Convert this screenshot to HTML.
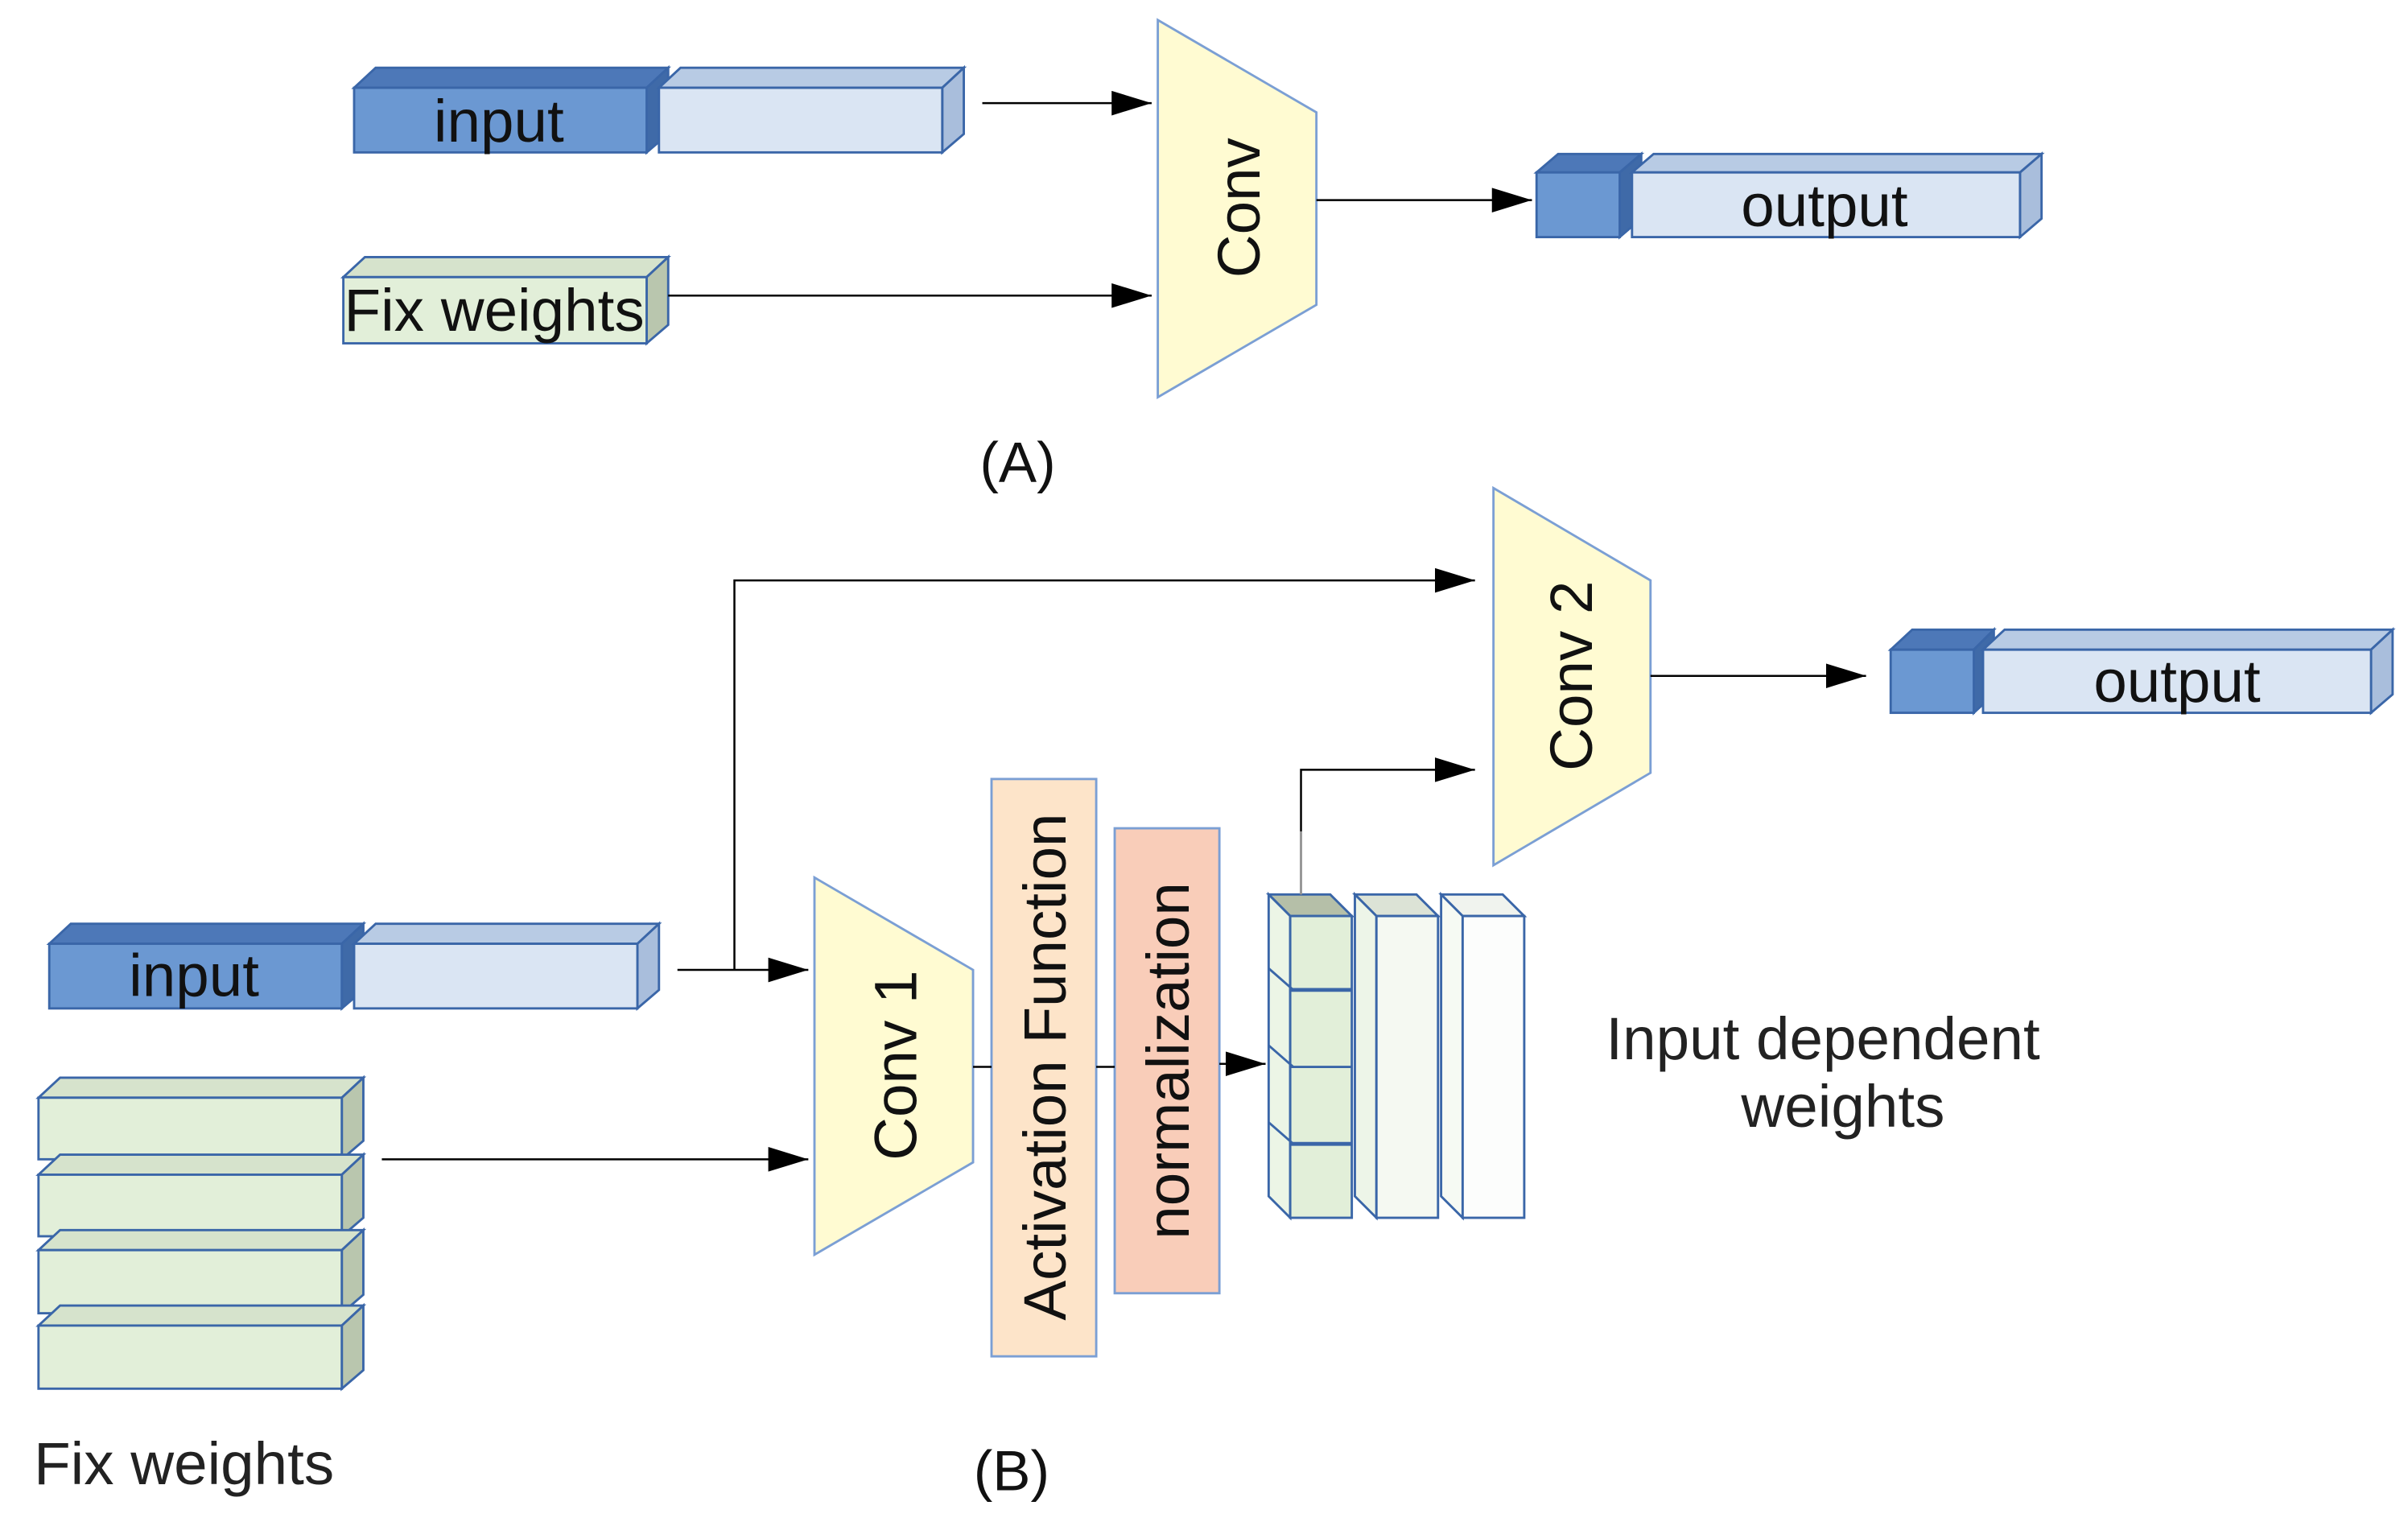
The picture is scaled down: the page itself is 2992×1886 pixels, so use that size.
<!DOCTYPE html>
<html><head><meta charset="utf-8"><style>html,body{margin:0;padding:0;background:#fff}svg{display:block}</style></head>
<body>
<svg width="2992" height="1886" viewBox="0 0 1564 986" preserveAspectRatio="none" xmlns="http://www.w3.org/2000/svg" font-family="Liberation Sans, sans-serif">
<defs>
<marker id="b" markerWidth="26" markerHeight="16" refX="26" refY="8" orient="auto" markerUnits="userSpaceOnUse"><path d="M0,0L26,8L0,16z" fill="#000"/></marker>
</defs>
<g stroke="#3a66a8" stroke-width="1.5">
<polygon points="230,57 420,57 434,44 244,44" fill="#4d78b8"/>
<polygon points="420,57 434,44 434,87 420,99" fill="#3f6aa8"/>
<rect x="230" y="57" width="190" height="42" fill="#6b98d2"/>
<polygon points="428,57 612,57 626,44 442,44" fill="#b8cbe4"/>
<polygon points="612,57 626,44 626,87 612,99" fill="#a9bedc"/>
<rect x="428" y="57" width="184" height="42" fill="#dae5f3"/>
<polygon points="223,180 420,180 434,167 237,167" fill="#d6e3cc"/>
<polygon points="420,180 434,167 434,211 420,223" fill="#b9c6ae"/>
<rect x="223" y="180" width="197" height="43" fill="#e2efd9"/>
<polygon points="752,13 855,73 855,198 752,258" fill="#fffbd2" stroke="#7b9fd4"/>
<polygon points="998,112 1052,112 1066,100 1012,100" fill="#4d78b8"/>
<polygon points="1052,112 1066,100 1066,142 1052,154" fill="#3f6aa8"/>
<rect x="998" y="112" width="54" height="42" fill="#6b98d2"/>
<polygon points="1060,112 1312,112 1326,100 1074,100" fill="#b8cbe4"/>
<polygon points="1312,112 1326,100 1326,142 1312,154" fill="#a9bedc"/>
<rect x="1060" y="112" width="252" height="42" fill="#dae5f3"/>
<polygon points="970,317 1072,377 1072,502 970,562" fill="#fffbd2" stroke="#7b9fd4"/>
<polygon points="1228,422 1282,422 1295,409 1242,409" fill="#4d78b8"/>
<polygon points="1282,422 1295,409 1295,451 1282,463" fill="#3f6aa8"/>
<rect x="1228" y="422" width="54" height="41" fill="#6b98d2"/>
<polygon points="1288,422 1540,422 1554,409 1302,409" fill="#b8cbe4"/>
<polygon points="1540,422 1554,409 1554,451 1540,463" fill="#a9bedc"/>
<rect x="1288" y="422" width="252" height="41" fill="#dae5f3"/>
<polygon points="32,613 222,613 236,600 46,600" fill="#4d78b8"/>
<polygon points="222,613 236,600 236,643 222,655" fill="#3f6aa8"/>
<rect x="32" y="613" width="190" height="42" fill="#6b98d2"/>
<polygon points="230,613 414,613 428,600 244,600" fill="#b8cbe4"/>
<polygon points="414,613 428,600 428,643 414,655" fill="#a9bedc"/>
<rect x="230" y="613" width="184" height="42" fill="#dae5f3"/>
<g fill="#e2efd9">
<polygon points="25,713 222,713 236,700 39,700" fill="#d6e3cc"/><polygon points="222,713 236,700 236,741 222,753" fill="#b9c6ae"/><rect x="25" y="713" width="197" height="40"/>
<polygon points="25,763 222,763 236,750 39,750" fill="#d6e3cc"/><polygon points="222,763 236,750 236,791 222,803" fill="#b9c6ae"/><rect x="25" y="763" width="197" height="40"/>
<polygon points="25,812 222,812 236,799 39,799" fill="#d6e3cc"/><polygon points="222,812 236,799 236,841 222,853" fill="#b9c6ae"/><rect x="25" y="812" width="197" height="41"/>
<polygon points="25,861 222,861 236,848 39,848" fill="#d6e3cc"/><polygon points="222,861 236,848 236,890 222,902" fill="#b9c6ae"/><rect x="25" y="861" width="197" height="41"/>
</g>
<polygon points="529,570 632,630 632,755 529,815" fill="#fffbd2" stroke="#7b9fd4"/>
<rect x="644" y="506" width="68" height="375" fill="#fde4c9" stroke="#7b9fd4"/>
<rect x="724" y="538" width="68" height="302" fill="#f9cdb9" stroke="#7b9fd4"/>
<polygon points="824,581 864,581 878,595 838,595" fill="#b5bfa8"/>
<polygon points="824,581 838,595 838,791 824,777" fill="#ecf5e6"/>
<rect x="838" y="595" width="40" height="196" fill="#e2efd9"/>
<line x1="824" y1="629" x2="840" y2="643"/><line x1="838" y1="643" x2="878" y2="643" stroke-width="2.5"/>
<line x1="824" y1="679" x2="840" y2="693"/><line x1="838" y1="693" x2="878" y2="693"/>
<line x1="824" y1="729" x2="840" y2="743"/><line x1="838" y1="743" x2="878" y2="743" stroke-width="2.5"/>
<polygon points="880,581 920,581 934,595 894,595" fill="#dce3d6"/>
<polygon points="880,581 894,595 894,791 880,777" fill="#edf5e8"/>
<rect x="894" y="595" width="40" height="196" fill="#f5f9f2"/>
<polygon points="936,581 976,581 990,595 950,595" fill="#f0f3ee"/>
<polygon points="936,581 950,595 950,791 936,777" fill="#f6faf3"/>
<rect x="950" y="595" width="40" height="196" fill="#fcfdfc"/>
</g>
<g stroke="#000" stroke-width="1.3" fill="none">
<line x1="638" y1="67" x2="748" y2="67" marker-end="url(#b)"/>
<line x1="434" y1="192" x2="748" y2="192" marker-end="url(#b)"/>
<line x1="855" y1="130" x2="995" y2="130" marker-end="url(#b)"/>
<polyline points="477,630 477,377 958,377" marker-end="url(#b)"/>
<line x1="440" y1="630" x2="525" y2="630" marker-end="url(#b)"/>
<line x1="1072" y1="439" x2="1212" y2="439" marker-end="url(#b)"/>
<line x1="248" y1="753" x2="525" y2="753" marker-end="url(#b)"/>
<line x1="632" y1="693" x2="644" y2="693"/>
<line x1="712" y1="693" x2="724" y2="693"/>
<line x1="792" y1="691" x2="822" y2="691" marker-end="url(#b)"/>
<polyline points="845,581 845,500 958,500" marker-end="url(#b)"/>
</g>
<line x1="845" y1="581" x2="845" y2="540" stroke="#999" stroke-width="1.5"/>
<g fill="#111" font-size="39">
<text x="324" y="92" text-anchor="middle">input</text>
<text x="321" y="215" text-anchor="middle">Fix weights</text>
<text transform="translate(818,135) rotate(-90)" text-anchor="middle">Conv</text>
<text x="1185" y="147" text-anchor="middle">output</text>
<text x="661" y="313" text-anchor="middle" font-size="37">(A)</text>
<text transform="translate(1034,439) rotate(-90)" text-anchor="middle">Conv 2</text>
<text x="1414" y="456" text-anchor="middle">output</text>
<text x="126" y="647" text-anchor="middle">input</text>
<text transform="translate(595,692) rotate(-90)" text-anchor="middle">Conv 1</text>
<text transform="translate(692,693) rotate(-90)" text-anchor="middle">Activation Function</text>
<text transform="translate(772,689) rotate(-90)" text-anchor="middle">normalization</text>
<text x="1184" y="688" text-anchor="middle" fill="#222">Input dependent</text>
<text x="1197" y="732" text-anchor="middle" fill="#222">weights</text>
<text x="22" y="964" fill="#222">Fix weights</text>
<text x="657" y="968" text-anchor="middle" font-size="37">(B)</text>
</g>
</svg>
</body></html>
